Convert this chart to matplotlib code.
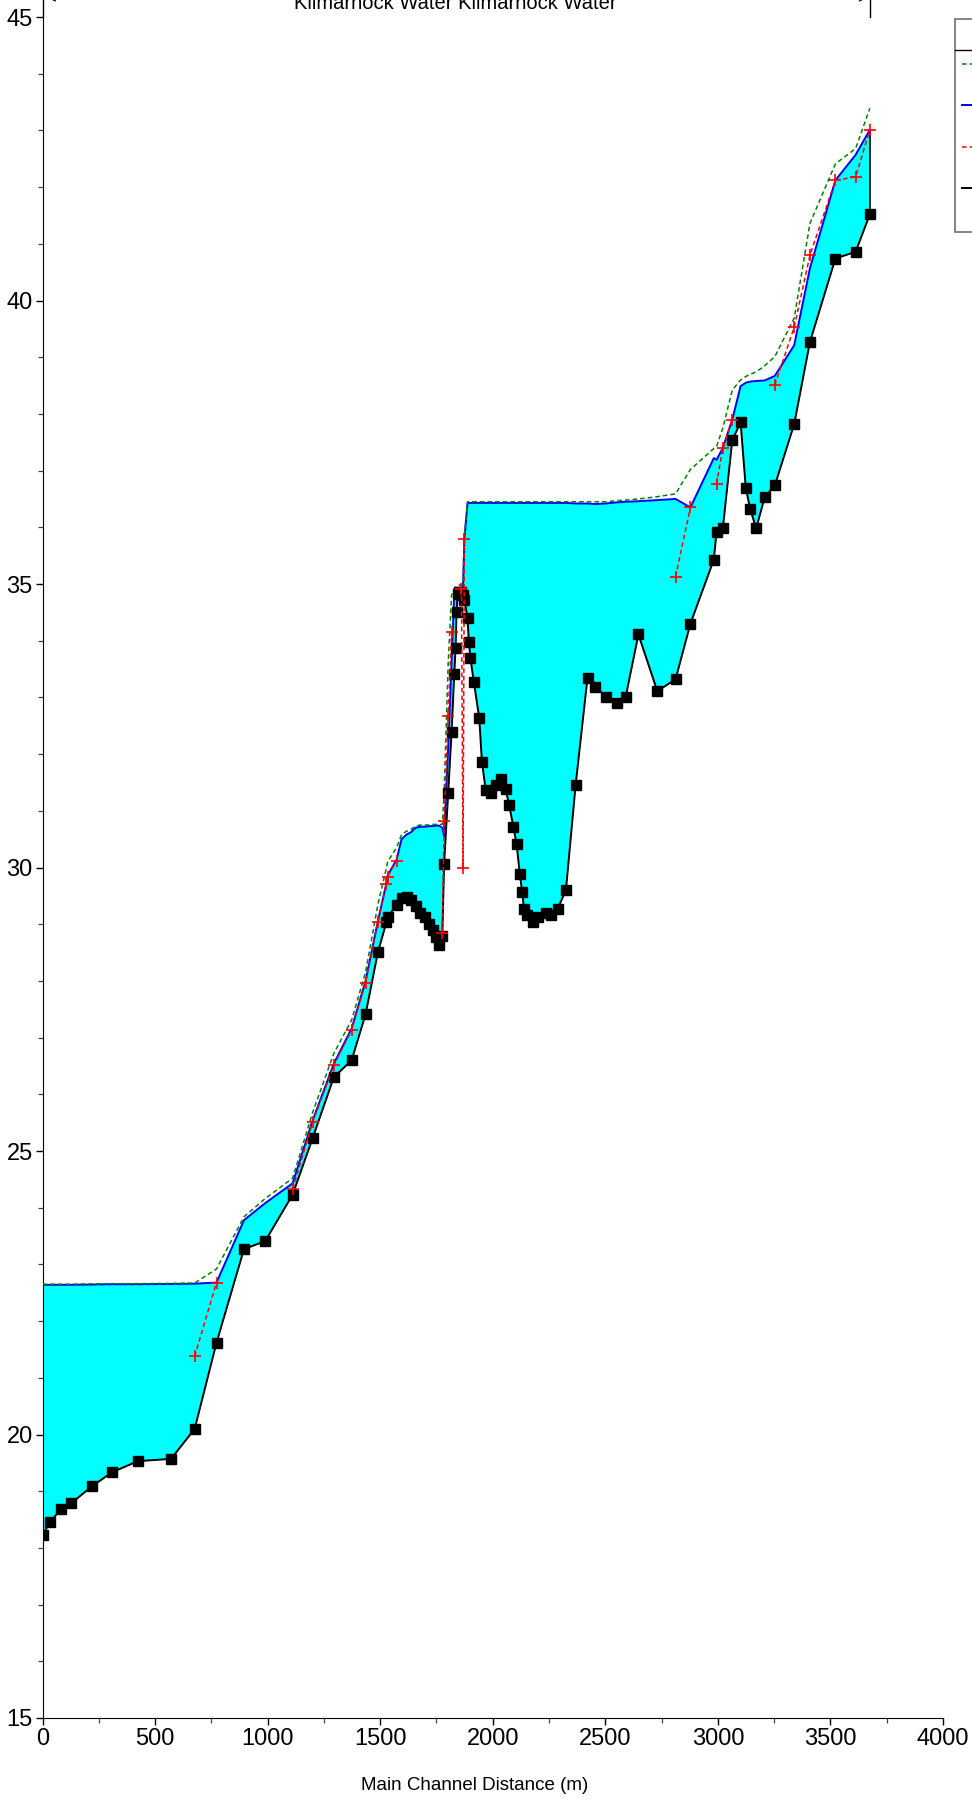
import matplotlib
matplotlib.use('Agg')
import matplotlib.pyplot as plt
from matplotlib.lines import Line2D
from matplotlib.patches import Rectangle
import numpy as np

plt.rcParams['font.family'] = ['Liberation Sans', 'DejaVu Sans']

N = np.nan

# river stations (m) - one per cross section
sta = [0, 33, 83, 128, 221, 307, 423, 571, 676, 773,
       895, 989, 1111, 1200, 1294, 1373, 1435, 1490, 1528, 1533,
       1573, 1595, 1617, 1636, 1657, 1679, 1698, 1718, 1735, 1750,
       1761, 1776, 1784, 1802, 1817, 1829, 1835, 1839, 1844, 1852,
       1861, 1868, 1874, 1888, 1894, 1901, 1916, 1940, 1952, 1969,
       1991, 2014, 2035, 2057, 2073, 2092, 2106, 2120, 2131, 2139,
       2150, 2177, 2202, 2236, 2257, 2288, 2325, 2368, 2421, 2456,
       2502, 2552, 2590, 2647, 2731, 2812, 2878, 2982, 2994, 3022,
       3064, 3101, 3124, 3144, 3170, 3208, 3253, 3339, 3409, 3522,
       3612, 3675]

ground = [18.23, 18.45, 18.69, 18.79, 19.09, 19.33, 19.53, 19.57, 20.10, 21.62,
          23.27, 23.41, 24.23, 25.23, 26.30, 26.60, 27.41, 28.51, 29.04, 29.13,
          29.34, 29.47, 29.48, 29.42, 29.32, 29.19, 29.12, 29.01, 28.89, 28.78,
          28.63, 28.80, 30.07, 31.31, 32.39, 33.41, 33.88, 34.50, 34.82, 34.86,
          34.86, 34.80, 34.72, 34.40, 33.97, 33.69, 33.27, 32.64, 31.86, 31.36,
          31.31, 31.45, 31.56, 31.38, 31.10, 30.71, 30.41, 29.89, 29.56, 29.26,
          29.16, 29.04, 29.13, 29.20, 29.16, 29.27, 29.60, 31.45, 33.35, 33.19,
          33.01, 32.91, 33.00, 34.11, 33.11, 33.32, 34.30, 35.43, 35.92, 35.98,
          37.54, 37.85, 36.69, 36.32, 35.98, 36.53, 36.74, 37.82, 39.27, 40.74,
          40.86, 41.52]

ws = [22.64, 22.64, 22.64, 22.64, 22.645, 22.65, 22.65, 22.655, 22.66, 22.68,
      23.78, 24.08, 24.43, 25.54, 26.54, 27.16, 28.00, 29.06, 29.73, 29.86,
      30.14, 30.50, 30.58, 30.62, 30.70, 30.72, 30.72, 30.73, 30.73, 30.74,
      30.74, 30.70, 30.55, 32.10, 33.60, 34.85, 34.88, 34.90, 34.92, 34.93,
      34.93, 34.95, 35.79, 36.43, 36.43, 36.43, 36.43, 36.43, 36.43, 36.43,
      36.43, 36.43, 36.43, 36.43, 36.43, 36.43, 36.43, 36.43, 36.43, 36.43,
      36.43, 36.43, 36.43, 36.43, 36.43, 36.43, 36.43, 36.42, 36.42, 36.41,
      36.42, 36.44, 36.45, 36.46, 36.48, 36.50, 36.35, 37.22, 37.19, 37.40,
      37.90, 38.49, 38.55, 38.57, 38.58, 38.59, 38.67, 39.21, 40.57, 42.12,
      42.57, 43.01]

eg = [22.65, 22.65, 22.65, 22.65, 22.655, 22.66, 22.66, 22.665, 22.67, 22.92,
      23.84, 24.16, 24.52, 25.68, 26.72, 27.31, 28.15, 29.35, 30.00, 30.10,
      30.35, 30.58, 30.64, 30.67, 30.73, 30.75, 30.75, 30.75, 30.76, 30.76,
      30.76, 30.76, 31.30, 33.60, 34.80, 34.92, 34.95, 34.96, 34.97, 34.98,
      34.99, 35.00, 35.85, 36.45, 36.45, 36.45, 36.45, 36.45, 36.45, 36.45,
      36.45, 36.45, 36.45, 36.45, 36.45, 36.45, 36.45, 36.45, 36.45, 36.45,
      36.45, 36.45, 36.45, 36.45, 36.45, 36.45, 36.45, 36.45, 36.45, 36.45,
      36.45, 36.47, 36.48, 36.50, 36.54, 36.59, 37.02, 37.39, 37.42, 37.75,
      38.42, 38.60, 38.66, 38.70, 38.74, 38.85, 39.01, 39.69, 41.36, 42.41,
      42.68, 43.39]

crit = [N, N, N, N, N, N, N, N, 21.38, 22.68,
        N, N, 24.33, 25.51, 26.51, 27.13, 27.97, 29.04, 29.71, 29.84,
        30.12, N, N, N, N, N, N, N, N, N,
        N, 28.85, 30.82, 32.67, 34.16, N, N, N, N, N,
        34.92, 30.00, 35.79, N, N, N, N, N, N, N,
        N, N, N, N, N, N, N, N, N, N,
        N, N, N, N, N, N, N, N, N, N,
        N, N, N, N, N, 35.13, 36.35, N, 36.76, 37.40,
        37.90, N, N, N, N, N, 38.51, 39.53, 40.80, 42.12,
        42.18, 43.01]

labels = ['EG  PF 1', 'WS  PF 1', 'Crit  PF 1', 'Ground']

W, H = 972, 1800
fig = plt.figure(figsize=(W / 100, H / 100), dpi=100)
ax = fig.add_axes([42.5 / W, 1 - 1718 / H, 900.5 / W, 1701 / H])

ax.fill_between(sta, ground, ws, color='#00FFFF', lw=0, zorder=1)
ax.vlines([sta[0], sta[-1]], [ground[0], ground[-1]], [ws[0], ws[-1]],
          color='black', lw=1.2, zorder=4)
l_ws, = ax.plot(sta, ws, color='#0000FF', lw=1.4, zorder=2)
l_eg, = ax.plot(sta, eg, color='#008000', lw=1.1, ls=(0, (3, 2)), zorder=3)
l_gr, = ax.plot(sta, ground, color='black', lw=1.4, marker='s', ms=6.5,
                zorder=4)
l_cr, = ax.plot(sta, crit, color='#FF0000', lw=1.1, ls=(0, (3, 2)),
                marker='+', ms=8, mew=1.2, zorder=5)

ax.set_xlim(0, 4000)
ax.set_ylim(15, 45)
ax.set_xticks(np.arange(0, 4001, 500))
ax.set_xticks(np.arange(0, 4001, 250), minor=True)
ax.set_yticks(np.arange(15, 46, 5))
ax.set_yticks(np.arange(15, 46, 1), minor=True)
ax.tick_params(which='major', direction='out', length=5, width=1,
               labelsize=17, pad=2)
ax.tick_params(which='minor', direction='out', length=3.5, width=0.9,
               color='#444444')
for s in ['top', 'right']:
    ax.spines[s].set_visible(False)
ax.set_xlabel('Main Channel Distance (m)', fontsize=13.5)
ax.xaxis.label.set_va('center')
ax.xaxis.set_label_coords(0.48, -(1785 - 1718) / 1701)

# reach end markers and title, mostly above the visible page
ax.plot([sta[0], sta[0]], [45, 45.4], color='black', lw=1, clip_on=False)
ax.plot([sta[-1], sta[-1]], [45, 45.4], color='black', lw=1, clip_on=False)
ax.text(sta[0] + 15, 45.32, '<', ha='left', va='center', fontsize=12,
        clip_on=False)
ax.text(sta[-1] - 15, 45.32, '>', ha='right', va='center', fontsize=12,
        clip_on=False)
fig.text(455 / W, 1 - 9 / H, 'Kilmarnock Water Kilmarnock Water',
         ha='center', va='baseline', fontsize=14.5)

# legend box, cut by the right edge of the page
fig.add_artist(Rectangle((954.5 / W, 1 - 231.5 / H), 40 / W, 212.8 / H,
                         transform=fig.transFigure, facecolor='white',
                         edgecolor='#707070', lw=1.2, zorder=4))
fig.add_artist(Line2D([954.5 / W, 1], [1 - 49.5 / H, 1 - 49.5 / H],
                      color='black', lw=1, transform=fig.transFigure,
                      zorder=6))
fig.legend([l_eg, l_ws, l_cr, l_gr], labels, loc='upper left',
           bbox_to_anchor=(955.5 / W, 1 - 51 / H),
           bbox_transform=fig.transFigure, borderaxespad=0, frameon=False,
           fontsize=13.5, borderpad=0.35, labelspacing=1.29,
           handlelength=2.5)

fig.savefig('out.png', dpi=100, facecolor='white')
